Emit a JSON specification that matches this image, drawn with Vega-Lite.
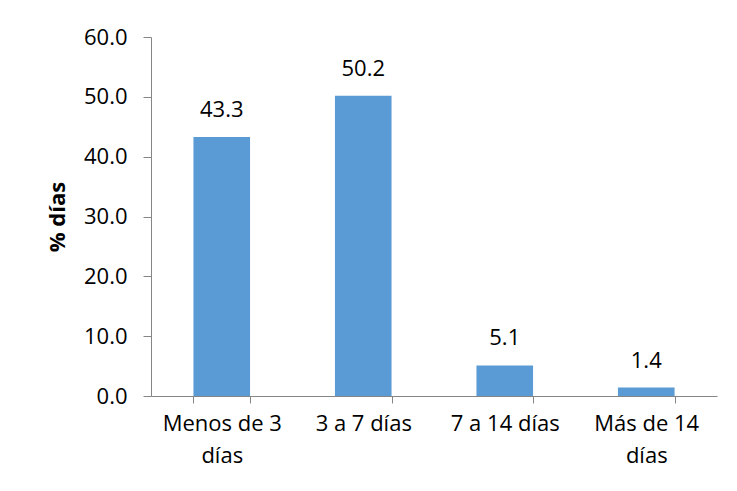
{
  "$schema": "https://vega.github.io/schema/vega-lite/v6.json",
  "width": 566,
  "height": 359,
  "autosize": {"type": "none"},
  "padding": {"left": 151, "top": 37, "right": 20, "bottom": 95},
  "background": "white",
  "config": {
    "view": {"stroke": null},
    "font": "Open Sans",
    "axis": {"labelFont": "Open Sans", "titleFont": "Open Sans", "labelColor": "#000000", "titleColor": "#000000"}
  },
  "data": {
    "values": [
      {"categoria": "Menos de 3 días", "valor": 43.3},
      {"categoria": "3 a 7 días", "valor": 50.2},
      {"categoria": "7 a 14 días", "valor": 5.1},
      {"categoria": "Más de 14 días", "valor": 1.4}
    ]
  },
  "encoding": {
    "x": {
      "field": "categoria",
      "type": "nominal",
      "sort": null,
      "scale": {"paddingInner": 0.6, "paddingOuter": 0.3},
      "axis": {
        "title": null,
        "labelAngle": 0,
        "labelFontSize": 22,
        "labelLineHeight": 32,
        "labelPadding": 10,
        "labelBaseline": "top",
        "labelLimit": 200,
        "tickBand": "extent",
        "tickSize": 7,
        "tickColor": "#868686",
        "domainColor": "#868686",
        "labelExpr": "datum.value == 'Menos de 3 días' ? ['Menos de 3', 'días'] : datum.value == 'Más de 14 días' ? ['Más de 14', 'días'] : datum.value"
      }
    },
    "y": {
      "field": "valor",
      "type": "quantitative",
      "scale": {"domain": [0, 60], "nice": false},
      "axis": {
        "title": "% días",
        "titleFontSize": 22,
        "titleFontWeight": "bold",
        "titlePadding": 14,
        "values": [0, 10, 20, 30, 40, 50, 60],
        "format": ".1f",
        "labelFontSize": 22,
        "labelPadding": 16,
        "tickSize": 8,
        "tickColor": "#868686",
        "domainColor": "#868686",
        "grid": false
      }
    }
  },
  "layer": [
    {"mark": {"type": "bar", "color": "#5B9BD5"}},
    {
      "mark": {"type": "text", "baseline": "bottom", "dy": -15, "fontSize": 22, "color": "#000000"},
      "encoding": {"text": {"field": "valor", "type": "quantitative", "format": ".1f"}}
    }
  ]
}
